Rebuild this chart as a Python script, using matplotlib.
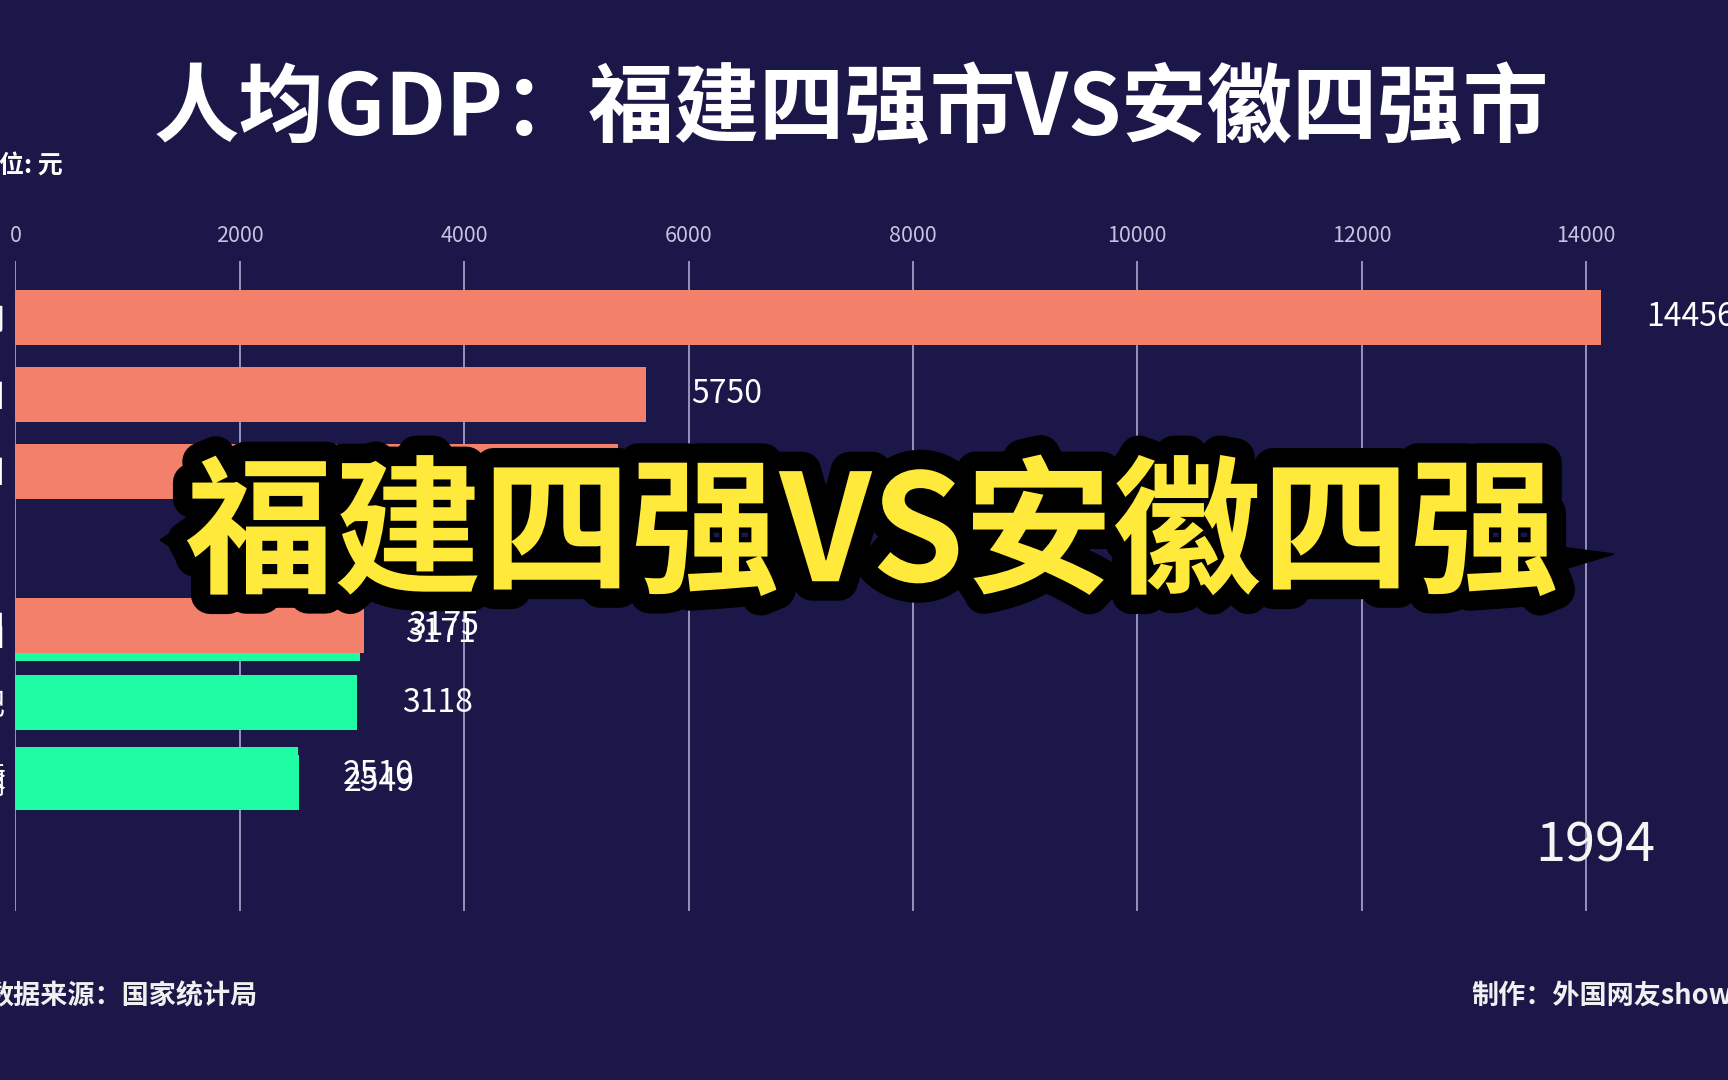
import matplotlib
matplotlib.use("Agg")
import matplotlib.pyplot as plt
import matplotlib.patheffects as pe
from matplotlib.patches import Polygon

plt.rcParams['font.family'] = ['Noto Sans CJK SC', 'DejaVu Sans']

# frame of a bar race, 1994
cities = ['厦门', '福州', '泉州', '马鞍山', '漳州', '合肥', '铜陵', '芜湖']
province = ['闽', '闽', '闽', '皖', '闽', '皖', '皖', '皖']
bar_len = [14137, 5619, 5374, 3075, 3104, 3045, 2520, 2525]   # animated widths
shown = ['14456', '5750', '5497', '3171', '3175', '3118', '2510', '2549']
rank = [0, 1, 2, 4.1, 4.0, 5.0, 5.93, 6.03]
year = '1994'
ticks = [0, 2000, 4000, 6000, 8000, 10000, 12000, 14000]

bg = '#1b1849'
colors = {'闽': '#f2806b', '皖': '#1efca4'}

fig = plt.figure(figsize=(17.28, 10.8), dpi=100, facecolor=bg)
ax = fig.add_axes([15.4 / 1728, 1 - 911 / 1080, 1682.8 / 1728, 650 / 1080])
ax.set_facecolor(bg)
ax.set_xlim(0, 15000)
ax.set_ylim(7.70, -0.73)

ax.barh(rank, bar_len, height=0.71,
        color=[colors[p] for p in province], zorder=3)
for r, w, s in zip(rank, bar_len, shown):
    ax.annotate(s, (w, r), xytext=(45, 0), textcoords='offset pixels',
                va='center', ha='left', color='white', fontsize=23, zorder=4)

ax.set_xticks(ticks)
ax.set_xticklabels([str(t) for t in ticks])
ax.xaxis.tick_top()
ax.tick_params(axis='x', length=0, pad=10, colors='#c5c3e0', labelsize=15.5)
for lb in ax.get_xticklabels():
    lb.set_fontweight('medium')
ax.grid(axis='x', color='#a09ec4', lw=1.3, zorder=1)
ax.set_yticks(rank)
ax.set_yticklabels(cities)
ax.tick_params(axis='y', length=0, pad=7, colors='white', labelsize=22)
for s in ax.spines.values():
    s.set_visible(False)

ax.text(1655 / 1728, 1 - 846 / 1080, year, transform=fig.transFigure,
        ha='right', va='center', fontsize=39, color='#f5f5f5')

fig.text(851 / 1728, 1 - 110 / 1080, '人均GDP：福建四强市VS安徽四强市',
         ha='center', va='center', fontsize=61.5, color='white', weight='bold')
fig.text(63 / 1728, 1 - 166 / 1080, '单位: 元', ha='right', va='center',
         fontsize=18, color='white', weight='bold')
fig.text(-14 / 1728, 1 - 996 / 1080, '数据来源：国家统计局', ha='left', va='center',
         fontsize=19.5, color='#f0f0f0', weight='bold')
fig.text(1471 / 1728, 1 - 996 / 1080, '制作：外国网友showmedata', ha='left', va='center',
         fontsize=19.5, color='#f0f0f0', weight='bold')

# yellow overlay caption with comic spikes
W, H = 1728, 1080
spikes = [[(1545, 545), (1614, 554), (1545, 575)],
          [(200, 515), (160, 540), (200, 565)]]
for sp in spikes:
    fig.add_artist(Polygon([(x / W, 1 - y / H) for x, y in sp], closed=True,
                           transform=fig.transFigure, color='black', zorder=9))
fig.text(872 / 1728, 1 - 538 / 1080, '福建四强VS安徽四强', ha='center', va='center',
         fontsize=107, color='#ffe93a', weight='black', zorder=10,
         path_effects=[pe.withStroke(linewidth=28, foreground='black')])

fig.savefig('out.png', dpi=100, facecolor=bg)
